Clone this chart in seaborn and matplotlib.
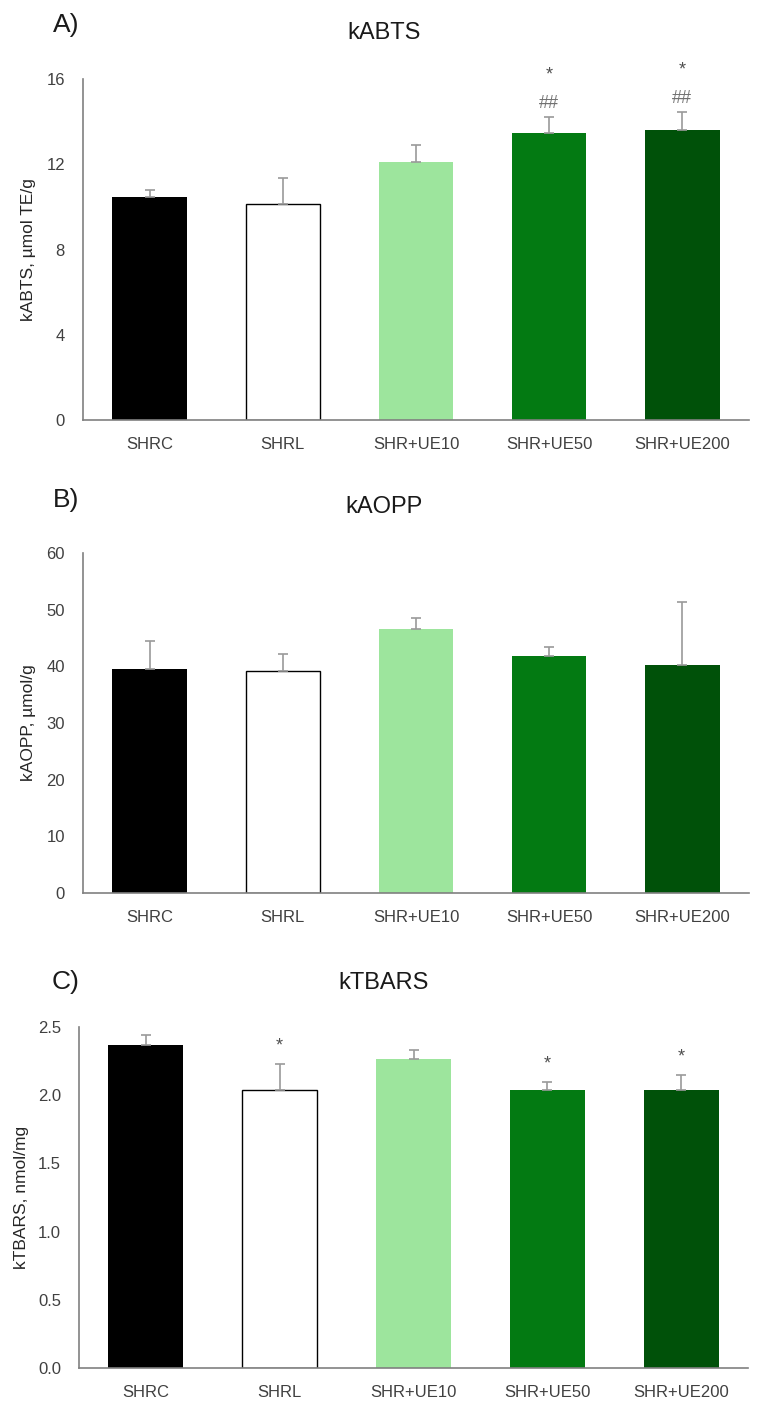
import numpy as np
import pandas as pd
import seaborn as sns
import matplotlib.pyplot as plt

# grupos y colores
grupos = ["SHRC", "SHRL", "SHR+UE10", "SHR+UE50", "SHR+UE200"]
colores = ["#000000", "#ffffff", "#9de59d", "#037a12", "#005109"]

# kABTS, µmol TE/g
abts_media = [10.45, 10.15, 12.1, 13.45, 13.6]
abts_err = [0.35, 1.2, 0.8, 0.75, 0.85]
abts_hash = ["", "", "", "##", "##"]
abts_star = ["", "", "", "*", "*"]

# kAOPP, µmol/g
aopp_media = [39.5, 39.2, 46.6, 41.8, 40.3]
aopp_err = [4.9, 3.0, 2.0, 1.6, 11.0]
aopp_hash = ["", "", "", "", ""]
aopp_star = ["", "", "", "", ""]

# kTBARS, nmol/mg
tbars_media = [2.37, 2.04, 2.265, 2.04, 2.035]
tbars_err = [0.07, 0.19, 0.065, 0.06, 0.115]
tbars_hash = ["", "", "", "", ""]
tbars_star = ["", "*", "", "*", "*"]

paneles = [
    ("A)", "kABTS", "kABTS, µmol TE/g", abts_media, abts_err, abts_hash, abts_star,
     [0, 4, 8, 12, 16], ["0", "4", "8", "12", "16"]),
    ("B)", "kAOPP", "kAOPP, µmol/g", aopp_media, aopp_err, aopp_hash, aopp_star,
     [0, 10, 20, 30, 40, 50, 60], ["0", "10", "20", "30", "40", "50", "60"]),
    ("C)", "kTBARS", "kTBARS, nmol/mg", tbars_media, tbars_err, tbars_hash, tbars_star,
     [0, 0.5, 1.0, 1.5, 2.0, 2.5], ["0.0", "0.5", "1.0", "1.5", "2.0", "2.5"]),
]

sns.set_style("white")
plt.rcParams["font.family"] = ["Liberation Sans", "DejaVu Sans"]

fig = plt.figure(figsize=(7.6, 14.11), dpi=100)
W, H = 760, 1411
# cajas de ejes en pixeles: izquierda, derecha, arriba, abajo
cajas = [(83, 749, 79, 420), (83, 749, 553, 893), (79, 748, 1027, 1368)]
titulos_y = [33, 507, 983]
letras_y = [25, 500, 982]
ylab_x = [28, 29, 22]

for (letra, titulo, ylab, media, err, hashes, stars, ticks, ticklabs), caja, ty, ly, yx in zip(
        paneles, cajas, titulos_y, letras_y, ylab_x):
    l, r, t, b = caja
    ax = fig.add_axes([l / W, 1 - b / H, (r - l) / W, (b - t) / H])
    df = pd.DataFrame({"grupo": grupos, "valor": media})
    sns.barplot(data=df, x="grupo", y="valor", hue="grupo", palette=colores,
                legend=False, width=0.56, ax=ax, errorbar=None, saturation=1)
    for p, c in zip(ax.patches, colores):
        if c == "#ffffff":
            p.set_edgecolor("black")
            p.set_linewidth(1.0)
        else:
            p.set_edgecolor(c)
            p.set_linewidth(0)
    x = np.arange(len(grupos))
    ax.errorbar(x, media, yerr=[np.zeros(len(err)), err], fmt="none",
                ecolor="#9a9a9a", elinewidth=1.2, capsize=3.3, capthick=1.2, zorder=1)
    for xi, m, e, h, s in zip(x, media, err, hashes, stars):
        if h:
            ax.annotate(h, (xi, m + e), xytext=(0, 14), textcoords="offset pixels",
                        ha="center", va="center", fontsize=13, color="#707070",
                        annotation_clip=False)
        if s:
            off = 42 if h else 18
            ax.annotate(s, (xi, m + e), xytext=(0, off), textcoords="offset pixels",
                        ha="center", va="center", fontsize=13, color="#505050",
                        annotation_clip=False)
    ax.set_ylim(ticks[0], ticks[-1])
    ax.set_xlim(-0.5, len(grupos) - 0.5)
    ax.set_yticks(ticks)
    ax.set_yticklabels(ticklabs)
    ax.set_xlabel("")
    ax.set_ylabel(ylab, fontsize=12.5, color="#262626", va="center")
    ax.yaxis.set_label_coords((yx - l) / (r - l), 0.5)
    ax.tick_params(axis="both", length=0, labelsize=12, colors="#404040")
    ax.tick_params(axis="y", pad=13)
    ax.tick_params(axis="x", pad=12)
    sns.despine(ax=ax)
    for sp in ["left", "bottom"]:
        ax.spines[sp].set_color("#808080")
        ax.spines[sp].set_linewidth(1.2)
    fig.text(384 / W, 1 - ty / H, titulo, ha="center", va="center", fontsize=17, color="#1a1a1a")
    fig.text(66 / W, 1 - ly / H, letra, ha="center", va="center", fontsize=19, color="#1a1a1a")

fig.savefig("out.png", dpi=100)
